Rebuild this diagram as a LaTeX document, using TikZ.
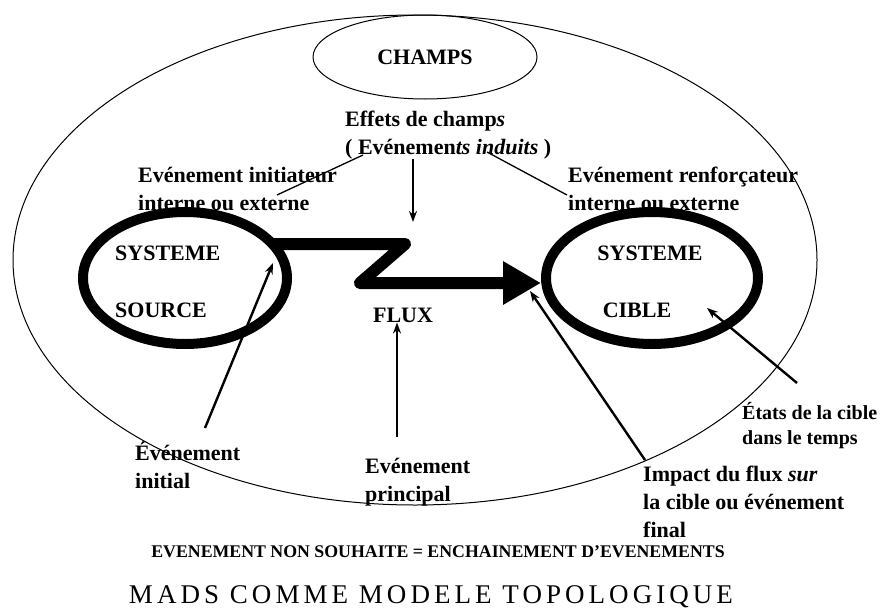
\documentclass[tikz,border=0pt]{standalone}
\usepackage{fontspec}
\setmainfont{Liberation Serif}
\newfontfamily\titrefont[LetterSpace=15]{Liberation Serif}
\usetikzlibrary{shapes.geometric}
\usetikzlibrary{arrows.meta}

\tikzset{
  etiq/.style={font=\bfseries\fontsize{22}{28}\selectfont, inner sep=0pt, align=left},
  systeme/.style={draw, ellipse, line width=10pt, inner sep=0pt},
  fin/.style={draw, ellipse, line width=1pt, inner sep=0pt},
  lien/.style={line width=1.3pt},
  fleche/.style={line width=2.4pt, -{Stealth[length=11pt,width=8pt]}},
}

\begin{document}
\begin{tikzpicture}[x=1pt, y=-1pt]
  \useasboundingbox (0,0) rectangle (880,613);

  \node[fin, minimum width=804pt, minimum height=490pt] (milieu) at (415,260) {};
  \node[fin, etiq, minimum width=224pt, minimum height=84pt] (champs) at (425,57) {CHAMPS};

  \node[etiq, anchor=west] (effets) at (345,135) {Effets de champ\textit{s}\\( Evénemen\textit{ts induits} )};
  \node[etiq, anchor=west] (initiateur) at (138,189) {Evénement initiateur\\interne ou externe};
  \node[etiq, anchor=west] (renfort) at (568,189) {Evénement renforçateur\\interne ou externe};

  \coordinate (champTip) at (413,222);
  \draw[fleche] (effets.south -| champTip) -- (champTip);
  \coordinate (iniA) at (277,195);
  \coordinate (iniB) at (363,155);
  \draw[lien] (iniA) -- (iniB);
  \coordinate (renA) at (487,152);
  \coordinate (renB) at (567,195);
  \draw[lien] (renA) -- (renB);

  % flux entre les deux systemes
  \coordinate (fluxA) at (272,244);
  \coordinate (fluxB) at (405,244);
  \coordinate (fluxC) at (360,283);
  \coordinate (fluxD) at (541,283);
  \draw[line width=12pt, line join=round, -{Triangle[length=38pt,width=41pt]}]
    (fluxA) -- (fluxB) -- (fluxC) -- (fluxD);

  \node[systeme, minimum width=204pt, minimum height=132pt] (source) at (185,278) {};
  \node[systeme, minimum width=212pt, minimum height=132pt] (cible) at (652,278) {};

  \node[etiq, anchor=west] (srcA) at (115,253) {SYSTEME};
  \node[etiq, anchor=west] (srcB) at (115,310) {SOURCE};
  \node[etiq] (cibA) at (650,253) {SYSTEME};
  \node[etiq] (cibB) at (637,310) {CIBLE};
  \node[etiq] (flux) at (403,315) {FLUX};

  \node[etiq, anchor=west] (initial) at (135,465) {Événement\\initial};
  \node[etiq, anchor=west] (principal) at (365,482) {Evénement\\principal};
  \node[etiq, anchor=west] (impact) at (643,502) {Impact du flux \textit{sur}\\la cible ou événement\\final};
  \node[etiq, anchor=west, font=\bfseries\fontsize{20}{25}\selectfont] (etats) at (742,426) {États de la cible\\dans le temps};

  \coordinate (initTail) at (205,428);
  \coordinate (initTip) at (273,263);
  \draw[fleche] (initTail) -- (initTip);
  \coordinate (prTail) at (397,437);
  \draw[fleche] (prTail) -- (prTail |- flux.south);
  \coordinate (impTail) at (645,460);
  \coordinate (impTip) at (530,291);
  \draw[fleche] (impTail) -- (impTip);
  \coordinate (etaTail) at (797,383);
  \coordinate (etaTip) at (707,308);
  \draw[fleche] (etaTail) -- (etaTip);

  \node[font=\bfseries\fontsize{17.8}{20}\selectfont, inner sep=0pt] (bilan) at (438,552)
    {EVENEMENT NON SOUHAITE = ENCHAINEMENT D'EVENEMENTS};
  \node[font=\titrefont\fontsize{27}{30}\selectfont, inner sep=0pt] (titre) at (431,597)
    {MADS COMME MODELE TOPOLOGIQUE};
\end{tikzpicture}
\end{document}
